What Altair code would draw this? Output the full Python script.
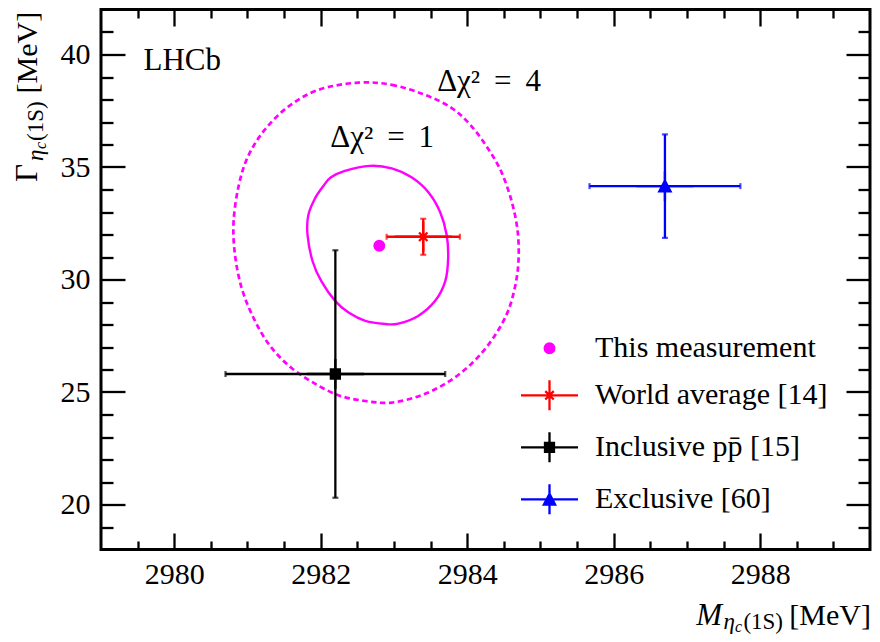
import altair as alt
import pandas as pd

FONT = "Liberation Serif"

# ---------------- data ----------------
series = ["This measurement", "World average [14]", "Inclusive pp\u0304 [15]", "Exclusive [60]"]
colors = ["#ff00ff", "#ff0000", "#000000", "#0000ff"]
mass = [2982.8, 2983.4, 2982.2, 2986.7]
mass_err = [0.0, 0.5, 1.5, 1.03]
gamma = [31.5, 31.9, 25.8, 34.15]
gamma_err = [0.0, 0.8, 5.5, 2.3]

# Delta chi2 = 1 contour (solid)
c1_x = [2982.67, 2982.97, 2983.24, 2983.47, 2983.63, 2983.72, 2983.74, 2983.70,
        2983.56, 2983.33, 2983.06, 2982.88, 2982.61, 2982.38, 2982.20, 2982.01,
        2981.89, 2981.82, 2981.83, 2981.92, 2982.04, 2982.14, 2982.33]
c1_y = [35.05, 34.94, 34.54, 33.88, 33.00, 31.98, 30.95, 29.92,
        29.04, 28.38, 28.04, 28.02, 28.16, 28.53, 29.04, 29.92,
        30.80, 31.98, 32.85, 33.59, 34.17, 34.54, 34.83]

# Delta chi2 = 4 contour (dashed)
c4_x = [2982.51, 2982.97, 2983.42, 2983.79, 2984.06, 2984.29, 2984.47, 2984.61,
        2984.69, 2984.70, 2984.65, 2984.54, 2984.33, 2984.06, 2983.74, 2983.38,
        2982.97, 2982.61, 2982.24, 2981.88, 2981.56, 2981.29, 2981.08, 2980.92,
        2980.83, 2980.81, 2980.88, 2981.01, 2981.24, 2981.56, 2981.97]
c4_y = [38.75, 38.65, 38.21, 37.62, 36.81, 35.79, 34.76, 33.44,
        32.12, 30.80, 29.63, 28.46, 27.28, 26.26, 25.45, 24.86,
        24.53, 24.60, 24.86, 25.45, 26.18, 27.13, 28.31, 29.63,
        31.09, 32.56, 34.17, 35.49, 36.67, 37.69, 38.43]

x_major = [2980, 2982, 2984, 2986, 2988]
x_minor = [2979.5, 2980.5, 2981, 2981.5, 2982.5, 2983, 2983.5, 2984.5, 2985,
           2985.5, 2986.5, 2987, 2987.5, 2988.5, 2989]
y_major = [20, 25, 30, 35, 40]
y_minor = [19, 21, 22, 23, 24, 26, 27, 28, 29, 31, 32, 33, 34, 36, 37, 38, 39, 41]

# ---------------- tables built from the arrays ----------------
pts = pd.DataFrame({
    "series": series,
    "m": mass,
    "mlo": [a - b for a, b in zip(mass, mass_err)],
    "mhi": [a + b for a, b in zip(mass, mass_err)],
    "g": gamma,
    "glo": [a - b for a, b in zip(gamma, gamma_err)],
    "ghi": [a + b for a, b in zip(gamma, gamma_err)],
})
err = pts.iloc[1:].reset_index(drop=True)
caps_h = pd.DataFrame({"series": list(err.series) * 2,
                       "x": list(err.mlo) + list(err.mhi),
                       "y": list(err.g) * 2})
caps_v = pd.DataFrame({"series": list(err.series) * 2,
                       "x": list(err.m) * 2,
                       "y": list(err.glo) + list(err.ghi)})
df_c1 = pd.DataFrame({"x": c1_x, "y": c1_y, "i": range(len(c1_x))})
df_c4 = pd.DataFrame({"x": c4_x, "y": c4_y, "i": range(len(c4_x))})
one = pd.DataFrame({"k": [0]})

W, H = 769, 540
xscale = alt.Scale(domain=[2979, 2989.5], nice=False, zero=False)
yscale = alt.Scale(domain=[18, 42], nice=False, zero=False)
# error-bar colour scale (only the three reference results)
escale = alt.Scale(domain=series[1:], range=colors[1:])


def tick_axis(orient, offset, values, size):
    return alt.Axis(orient=orient, offset=offset, values=values, tickSize=size,
                    tickWidth=2.3, tickColor="black", labels=False, domain=False,
                    grid=False, ticks=True, title=None)


xlab = alt.Axis(orient="bottom", values=x_major, format="d", labels=True, ticks=False,
                tickSize=0, domain=False, grid=False, labelFont=FONT, labelFontSize=30,
                labelColor="black", labelPadding=10, labelOverlap=False,
                labelFlush=False, title=None)
ylab = alt.Axis(orient="left", values=y_major, format="d", labels=True, ticks=False,
                tickSize=0, domain=False, grid=False, labelFont=FONT, labelFontSize=30,
                labelColor="black", labelPadding=11, labelOverlap=False,
                labelFlush=False, title=None)

# contours
c4 = alt.Chart(df_c4).mark_line(color="#ff00ff", strokeWidth=2.7, strokeDash=[5.5, 3.5],
                                interpolate="cardinal-closed").encode(
    x=alt.X("x:Q", scale=xscale, axis=xlab),
    y=alt.Y("y:Q", scale=yscale, axis=ylab),
    order="i:Q")
c1 = alt.Chart(df_c1).mark_line(color="#ff00ff", strokeWidth=2.4,
                                interpolate="cardinal-closed").encode(
    x=alt.X("x:Q", scale=xscale, axis=tick_axis("top", -H, x_major, 16.5)),
    y=alt.Y("y:Q", scale=yscale, axis=tick_axis("right", -W, y_major, 24)),
    order="i:Q")

# error bars
hbar = alt.Chart(err).mark_rule(strokeWidth=2.3).encode(
    x=alt.X("mlo:Q", scale=xscale, axis=tick_axis("top", -H, x_minor, 8.5)),
    x2="mhi:Q",
    y=alt.Y("g:Q", scale=yscale, axis=tick_axis("right", -W, y_minor, 12)),
    color=alt.Color("series:N", scale=escale, legend=None))
vbar = alt.Chart(err).mark_rule(strokeWidth=2.3).encode(
    x=alt.X("m:Q", scale=xscale, axis=tick_axis("bottom", -H, x_major, 16.5)),
    y=alt.Y("glo:Q", scale=yscale, axis=tick_axis("left", -W, y_major, 24)),
    y2="ghi:Q",
    color=alt.Color("series:N", scale=escale, legend=None))
caph = alt.Chart(caps_h).mark_tick(orient="vertical", size=6, thickness=2.2).encode(
    x=alt.X("x:Q", scale=xscale, axis=tick_axis("bottom", -H, x_minor, 8.5)),
    y=alt.Y("y:Q", scale=yscale, axis=tick_axis("left", -W, y_minor, 12)),
    color=alt.Color("series:N", scale=escale, legend=None))
capv = alt.Chart(caps_v).mark_tick(orient="horizontal", size=6, thickness=2.2).encode(
    x=alt.X("x:Q", scale=xscale, axis=None),
    y=alt.Y("y:Q", scale=yscale, axis=None),
    color=alt.Color("series:N", scale=escale, legend=None))

# markers + legend: the same symbol paths serve for the plot markers and the legend
# (the cross arms lie under the longer error bars of the same colour)
legend_paths = [
    "M-0.24,0A0.24,0.24,0,1,1,0.24,0A0.24,0.24,0,1,1,-0.24,0Z",
    "M-1.425,0H1.425M0,-0.75V0.75M-0.3,0H0.3M0,-0.3V0.3M-0.21,-0.21L0.21,0.21M-0.21,0.21L0.21,-0.21",
    "M-1.425,0H1.425M0,-0.75V0.75M-0.225,-0.225H0.225V0.225H-0.225Z",
    "M-1.425,0H1.425M0,-0.75V0.75M0,-0.27L0.28,0.26H-0.28Z",
]
LEG = dict(orient="none", legendX=427, legendY=317.3, padding=0,
           labelFont=FONT, labelFontSize=30, labelColor="black", labelOffset=24,
           rowPadding=10, symbolSize=1600, symbolStrokeWidth=2.3, labelLimit=600,
           symbolOffset=0)
marks = alt.Chart(pts).mark_point(filled=True, opacity=1, size=1600,
                                  strokeWidth=2.3).encode(
    x=alt.X("m:Q", scale=xscale, axis=None),
    y=alt.Y("g:Q", scale=yscale, axis=None),
    fill=alt.Fill("series:N", scale=alt.Scale(domain=series, range=colors),
                  legend=alt.Legend(title=None, **LEG), sort=None),
    stroke=alt.Stroke("series:N", scale=alt.Scale(domain=series, range=colors),
                      legend=alt.Legend(title=None, **LEG), sort=None),
    shape=alt.Shape("series:N", scale=alt.Scale(domain=series, range=legend_paths),
                    legend=alt.Legend(title=None, **LEG), sort=None))


# annotations in data coordinates
def note(text, x, y, size):
    return alt.Chart(one).mark_text(text=text, font=FONT, fontSize=size, align="left",
                                    baseline="alphabetic", color="black").encode(
        x=alt.XDatum(x, type="quantitative", scale=xscale, axis=None),
        y=alt.YDatum(y, type="quantitative", scale=yscale, axis=None))


n_lhcb = note("LHCb", 2979.58, 39.3, 31)
n_4 = note("\u0394\u03c7\u00b2 \u2009=\u2009 4", 2983.59, 38.38, 31)
n_1 = note("\u0394\u03c7\u00b2 \u2009=\u2009 1", 2982.13, 35.89, 31)


# axis titles (pixel placement relative to the plot area)
def piece(text, x, y, size, italic=False, angle=0, align="left"):
    kw = dict(text=text, font=FONT, fontSize=size, align=align, baseline="alphabetic",
              color="black", fontStyle="italic" if italic else "normal")
    if angle:
        kw["angle"] = angle
    return alt.Chart(one).mark_text(**kw).encode(x=alt.value(x), y=alt.value(y))


xt = [
    piece("[MeV]", 770, 615.5, 30, align="right"),
    piece("(1S)", 682, 619.5, 23, align="right"),
    piece("c", 641, 622.5, 16, italic=True, align="right"),
    piece("\u03b7", 634, 619.5, 23, italic=True, align="right"),
    piece("M", 621, 615.5, 31, italic=True, align="right"),
]
yt = [
    piece("\u0393", -64, 172.5, 31, angle=270),
    piece("\u03b7", -58, 151.5, 23, italic=True, angle=270),
    piece("c", -55, 139.5, 16, italic=True, angle=270),
    piece("(1S)", -58, 131.5, 23, angle=270),
    piece("[MeV]", -64, 84, 30, angle=270),
]

chart = alt.layer(
    c4, c1, hbar, vbar, caph, capv, marks,
    n_lhcb, n_4, n_1, *xt, *yt
).resolve_axis(x="independent", y="independent").properties(
    width=W, height=H,
    autosize=alt.AutoSizeParams(type="none"),
    padding={"left": 93, "top": 1.5, "right": 2, "bottom": 84.5},
).configure_view(stroke="black", strokeWidth=3)

chart.save("out.html", embed_options={"renderer": "svg", "actions": False})
